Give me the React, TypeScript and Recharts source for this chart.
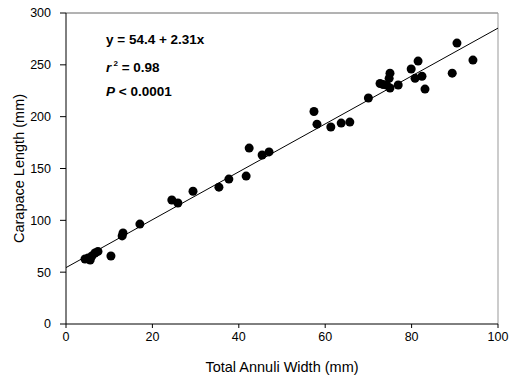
import { XAxis, YAxis, ReferenceLine, Line, Scatter, ComposedChart } from "recharts";

const annuliWidth = [4.4, 5.1, 5.6, 6.0, 6.7, 7.4, 10.4, 13.0, 13.2, 17.1, 24.5, 25.9, 29.4, 35.4, 37.7, 41.7, 42.4, 45.4, 47.0, 57.4, 58.1, 61.3, 63.7, 65.7, 70.0, 72.7, 73.4, 74.2, 75.0, 74.8, 75.0, 76.9, 79.9, 80.8, 81.5, 82.4, 83.1, 89.4, 90.5, 94.2];
const carapaceLength = [62.7, 63.6, 61.7, 65.6, 68.5, 70.0, 65.6, 85.0, 87.8, 96.4, 119.6, 116.7, 128.0, 132.0, 139.8, 142.7, 169.7, 163.0, 166.0, 205.0, 192.8, 190.0, 193.8, 194.8, 218.0, 232.0, 231.0, 230.5, 227.6, 237.0, 242.0, 230.5, 246.0, 237.0, 253.6, 239.0, 226.6, 242.0, 271.0, 254.6];
const fitX = [0, 100];
const fitY = [54.4, 285.4];
const xTicks = [0, 20, 40, 60, 80, 100];
const yTicks = [0, 50, 100, 150, 200, 250, 300];

const points = annuliWidth.map((x, i) => ({ x, y: carapaceLength[i] }));
const fit = fitX.map((x, i) => ({ x, fy: fitY[i] }));

const font = "'Liberation Sans', Arial, sans-serif";

export default function App() {
    return (
        <div style={{ position: "absolute", left: 0, top: 0, width: 515, height: 378, background: "#fff", fontFamily: font }}>
            <ComposedChart width={515} height={378} margin={{ top: 13, right: 17, bottom: 0, left: 0 }}>
                <XAxis
                    type="number"
                    dataKey="x"
                    domain={[0, 100]}
                    ticks={xTicks}
                    height={54}
                    tickSize={4}
                    tickMargin={4}
                    stroke="#000"
                    tick={{ fill: "#000", fontSize: 12.5, fontFamily: font }}
                    label={{ value: "Total Annuli Width (mm)", position: "insideBottom", offset: 6, fill: "#000", fontSize: 14.5, fontFamily: font }}
                />
                <YAxis
                    type="number"
                    domain={[0, 300]}
                    ticks={yTicks}
                    width={66}
                    tickSize={6}
                    tickMargin={9}
                    stroke="#000"
                    tick={{ fill: "#000", fontSize: 12.5, fontFamily: font }}
                    label={{ value: "Carapace Length (mm)", angle: -90, position: "insideLeft", offset: 19, style: { textAnchor: "middle" }, fill: "#000", fontSize: 14.5, fontFamily: font }}
                />
                <ReferenceLine y={300} stroke="#666" />
                <ReferenceLine x={100} stroke="#999" />
                <Line data={fit} dataKey="fy" stroke="#000" strokeWidth={1} dot={false} isAnimationActive={false} />
                <Scatter data={points} dataKey="y" fill="#000" isAnimationActive={false} shape={(p: any) => <circle cx={p.cx} cy={p.cy} r={4.5} fill="#000" />} />
            </ComposedChart>
            <div style={{ position: "absolute", left: 106, top: 28, fontSize: 13.5, fontWeight: "bold", lineHeight: "24px", color: "#000" }}>
                <div>y = 54.4 + 2.31x</div>
                <div><i>r</i><sup style={{ fontSize: 8 }}> 2</sup> = 0.98</div>
                <div><i>P</i> &lt; 0.0001</div>
            </div>
        </div>
    );
}
